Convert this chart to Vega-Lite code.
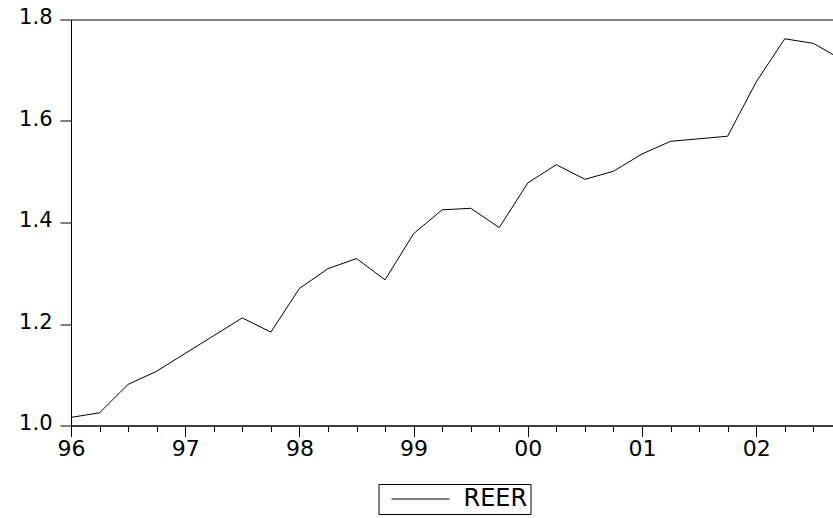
{
  "$schema": "https://vega.github.io/schema/vega-lite/v6.json",
  "autosize": "none",
  "width": 762,
  "height": 406,
  "padding": {"left": 71, "top": 19.5, "right": 0, "bottom": 92.5},
  "background": "white",
  "config": {
    "view": {"stroke": "black", "strokeWidth": 1},
    "axis": {"domainColor": "black", "tickColor": "black", "labelColor": "black", "labelFont": "DejaVu Sans", "grid": false, "title": null}
  },
  "data": {
    "values": [
      {"q": 0, "period": "1996Q1", "REER": 1.016},
      {"q": 1, "period": "1996Q2", "REER": 1.025},
      {"q": 2, "period": "1996Q3", "REER": 1.081},
      {"q": 3, "period": "1996Q4", "REER": 1.107},
      {"q": 4, "period": "1997Q1", "REER": 1.142},
      {"q": 5, "period": "1997Q2", "REER": 1.177},
      {"q": 6, "period": "1997Q3", "REER": 1.212},
      {"q": 7, "period": "1997Q4", "REER": 1.184},
      {"q": 8, "period": "1998Q1", "REER": 1.270},
      {"q": 9, "period": "1998Q2", "REER": 1.309},
      {"q": 10, "period": "1998Q3", "REER": 1.329},
      {"q": 11, "period": "1998Q4", "REER": 1.287},
      {"q": 12, "period": "1999Q1", "REER": 1.378},
      {"q": 13, "period": "1999Q2", "REER": 1.425},
      {"q": 14, "period": "1999Q3", "REER": 1.428},
      {"q": 15, "period": "1999Q4", "REER": 1.390},
      {"q": 16, "period": "2000Q1", "REER": 1.478},
      {"q": 17, "period": "2000Q2", "REER": 1.514},
      {"q": 18, "period": "2000Q3", "REER": 1.485},
      {"q": 19, "period": "2000Q4", "REER": 1.501},
      {"q": 20, "period": "2001Q1", "REER": 1.535},
      {"q": 21, "period": "2001Q2", "REER": 1.560},
      {"q": 22, "period": "2001Q3", "REER": 1.565},
      {"q": 23, "period": "2001Q4", "REER": 1.570},
      {"q": 24, "period": "2002Q1", "REER": 1.677},
      {"q": 25, "period": "2002Q2", "REER": 1.762},
      {"q": 26, "period": "2002Q3", "REER": 1.753},
      {"q": 27, "period": "2002Q4", "REER": 1.721}
    ]
  },
  "mark": {"type": "line", "strokeWidth": 1, "clip": true},
  "encoding": {
    "x": {
      "field": "q",
      "type": "quantitative",
      "scale": {"domain": [0, 26.69], "nice": false, "zero": false},
      "axis": {
        "values": [0,1,2,3,4,5,6,7,8,9,10,11,12,13,14,15,16,17,18,19,20,21,22,23,24,25,26],
        "labelExpr": "datum.value % 4 === 0 ? ['96','97','98','99','00','01','02'][datum.value / 4] : ''",
        "labelFontSize": 22,
        "labelPadding": 2,
        "tickSize": {"condition": {"test": "datum.value % 4 === 0", "value": 11}, "value": 6},
        "labelFlush": false,
        "labelOverlap": false
      }
    },
    "y": {
      "field": "REER",
      "type": "quantitative",
      "scale": {"domain": [1.0, 1.8], "nice": false, "zero": false},
      "axis": {
        "values": [1.0, 1.2, 1.4, 1.6, 1.8],
        "format": ".1f",
        "labelFontSize": 21,
        "tickSize": 11,
        "labelPadding": 8,
        "labelOffset": -2,
        "labelFlush": false,
        "labelOverlap": false
      }
    },
    "color": {
      "datum": "REER",
      "scale": {"domain": ["REER"], "range": ["black"]},
      "legend": {
        "title": null,
        "orient": "none",
        "legendX": 307.5,
        "legendY": 464.5,
        "strokeColor": "black",
        "fillColor": "white",
        "padding": 3,
        "symbolType": "M-2.64,0H2.64",
        "symbolSize": 484,
        "symbolStrokeWidth": 1,
        "symbolStrokeColor": "black",
        "symbolOffset": 27,
        "labelFont": "DejaVu Sans",
        "labelFontSize": 24,
        "labelColor": "black",
        "labelOffset": 31
      }
    }
  }
}
